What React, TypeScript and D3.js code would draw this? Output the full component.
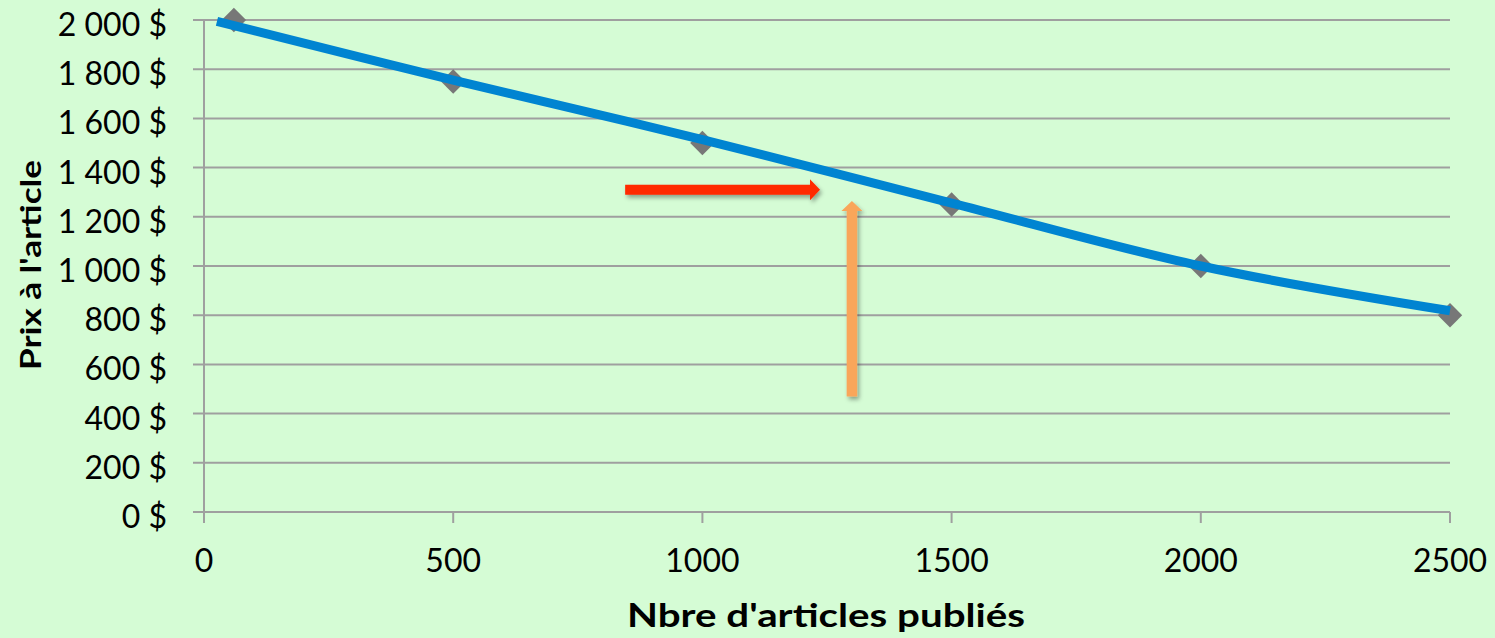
import React from "react";
import * as d3 from "d3";

// Data
const pointX = [60, 500, 1000, 1500, 2000, 2500];
const pointY = [2000, 1750, 1500, 1250, 1000, 800];
const curveX = [26, 500, 1000, 1500, 2000, 2500];
const curveY = [1994, 1756, 1514, 1256, 1000, 818];
const xTicks = [0, 500, 1000, 1500, 2000, 2500];
const yTicks = [0, 200, 400, 600, 800, 1000, 1200, 1400, 1600, 1800, 2000];
const redArrow = { x1: 845, y1: 1310, x2: 1236, y2: 1310 };
const orangeArrow = { x1: 1300, y1: 470, x2: 1300, y2: 1264 };
const xTitle = "Nbre d'articles publiés";
const yTitle = "Prix à l'article";

const W = 1495;
const H = 638;
const FONT = "Lato, 'Open Sans', sans-serif";

const fmtY = (v: number) => {
  const s = String(v);
  const withSpace = s.length > 3 ? s.slice(0, s.length - 3) + " " + s.slice(-3) : s;
  return withSpace + " $";
};

function arrowPath(x1: number, y1: number, x2: number, y2: number, shaftW: number, headW: number, headL: number) {
  const dx = x2 - x1;
  const dy = y2 - y1;
  const len = Math.sqrt(dx * dx + dy * dy);
  const ux = dx / len;
  const uy = dy / len;
  const nx = -uy;
  const ny = ux;
  const bx = x2 - ux * headL;
  const by = y2 - uy * headL;
  const pts: [number, number][] = [
    [x1 + nx * shaftW / 2, y1 + ny * shaftW / 2],
    [bx + nx * shaftW / 2, by + ny * shaftW / 2],
    [bx + nx * headW / 2, by + ny * headW / 2],
    [x2, y2],
    [bx - nx * headW / 2, by - ny * headW / 2],
    [bx - nx * shaftW / 2, by - ny * shaftW / 2],
    [x1 - nx * shaftW / 2, y1 - ny * shaftW / 2],
  ];
  return "M" + pts.map((p) => p[0].toFixed(2) + "," + p[1].toFixed(2)).join("L") + "Z";
}

export default function App() {
  const x = d3.scaleLinear().domain([0, 2500]).range([204, 1450]);
  const y = d3.scaleLinear().domain([0, 2000]).range([512, 20]);

  const lineGen = d3
    .line<[number, number]>()
    .x((d) => x(d[0]))
    .y((d) => y(d[1]))
    .curve(d3.curveCatmullRom.alpha(0.5));
  const curveData: [number, number][] = curveX.map((v, i) => [v, curveY[i]]);

  const diamond = d3.symbol().type(d3.symbolDiamond2).size(380)();

  const gridColor = "#9f9f9f";

  return (
    <svg width={W} height={H} style={{ position: "absolute", left: 0, top: 0 }} fontFamily={FONT}>
      <defs>
        <filter id="shadow" x="-20%" y="-50%" width="140%" height="200%">
          <feDropShadow dx="2" dy="3" stdDeviation="2" floodColor="#000" floodOpacity="0.35" />
        </filter>
      </defs>
      <rect x={0} y={0} width={W} height={H} fill="#d5fcd5" />

      {/* gridlines + y ticks */}
      {yTicks.map((t) => (
        <line key={"g" + t} x1={193} x2={x(2500)} y1={y(t)} y2={y(t)} stroke={gridColor} strokeWidth={2} />
      ))}
      {/* y axis line */}
      <line x1={x(0)} x2={x(0)} y1={y(2000)} y2={y(0) + 11} stroke={gridColor} strokeWidth={2} />
      {/* x ticks */}
      {xTicks.map((t) => (
        <line key={"xt" + t} x1={x(t)} x2={x(t)} y1={y(0)} y2={y(0) + 11} stroke={gridColor} strokeWidth={2} />
      ))}

      {/* y tick labels */}
      {yTicks.map((t) => (
        <text key={"yl" + t} x={167} y={y(t) + 16} textAnchor="end" fontSize={32} fill="#000">
          {fmtY(t)}
        </text>
      ))}
      {/* x tick labels */}
      {xTicks.map((t) => (
        <text key={"xl" + t} x={x(t)} y={y(0) + 60} textAnchor="middle" fontSize={32} fill="#000">
          {t}
        </text>
      ))}

      {/* axis titles */}
      <text x={826} y={627} textAnchor="middle" fontSize={32} fontWeight="bold" fill="#000" textLength={398} lengthAdjust="spacingAndGlyphs">
        {xTitle}
      </text>
      <text
        transform={`translate(41,265) rotate(-90)`}
        textAnchor="middle"
        fontSize={28}
        fontWeight="bold"
        fill="#000"
        textLength={210}
        lengthAdjust="spacingAndGlyphs"
      >
        {yTitle}
      </text>

      {/* markers */}
      {pointX.map((v, i) => (
        <path key={"m" + i} d={diamond as string} transform={`translate(${x(v)},${y(pointY[i])})`} fill="#777777" />
      ))}

      {/* curve */}
      <path d={lineGen(curveData) as string} fill="none" stroke="#0084d1" strokeWidth={9} strokeLinecap="butt" />

      {/* arrows */}
      <path
        d={arrowPath(x(redArrow.x1), y(redArrow.y1), x(redArrow.x2), y(redArrow.y2), 10, 21, 10)}
        fill="#ff2a00"
        filter="url(#shadow)"
      />
      <path
        d={arrowPath(x(orangeArrow.x1), y(orangeArrow.y1), x(orangeArrow.x2), y(orangeArrow.y2), 10.5, 21, 10)}
        fill="#f9a65a"
        filter="url(#shadow)"
      />
    </svg>
  );
}
